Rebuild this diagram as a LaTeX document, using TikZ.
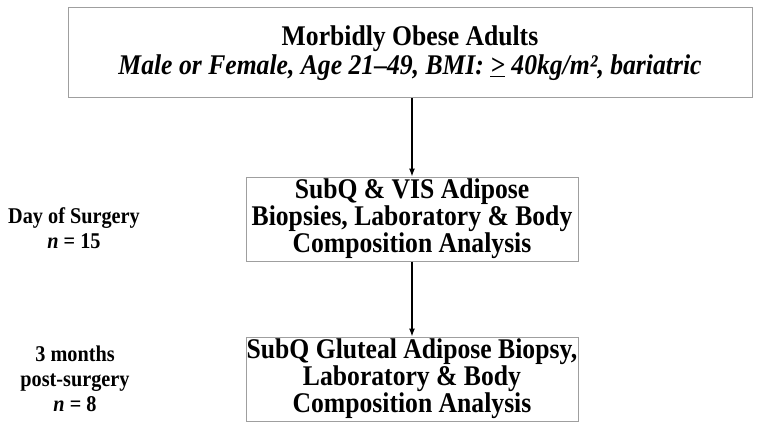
\documentclass[tikz,border=0pt]{standalone}
\usepackage{fontspec}
\setmainfont{Liberation Serif}[FakeStretch=0.9]
\usetikzlibrary{arrows.meta}
\begin{document}
\begin{tikzpicture}[
  x=1pt, y=1pt,
  >={Latex[length=8pt,width=6pt]},
  box/.style={draw=gray!75, line width=1pt, align=center, inner sep=0pt,
    font=\fontsize{28.5}{27}\selectfont\bfseries},
  lbl/.style={align=center, font=\fontsize{22.5}{25}\selectfont\bfseries},
  flow/.style={->, line width=1.2pt},
]

% ── Canvas (unit = 1 px of the 770 x 440 frame) ──────────────────────────────
\useasboundingbox (0, 0) rectangle (770, 440);

% ── Boxes ─────────────────────────────────────────────────────────────────────
\node[box, minimum width=684, minimum height=90] (cohort) at (410, 387)
  {Morbidly Obese Adults\\[2pt]
   \textit{Male or Female, Age 21--49, BMI: \underline{>} 40kg/m², bariatric}};
\node[box, minimum width=332, minimum height=84] (surgery) at (412, 221)
  {SubQ \& VIS Adipose\\Biopsies, Laboratory \& Body\\Composition Analysis};
\node[box, minimum width=332, minimum height=84] (followup) at (412, 61)
  {SubQ Gluteal Adipose Biopsy,\\Laboratory \& Body\\Composition Analysis};

% ── Time points ───────────────────────────────────────────────────────────────
\node[lbl] (daylbl) at (74, 212) {Day of Surgery\\\textit{n} = 15};
\node[lbl] (monthlbl) at (75, 61) {3 months\\post-surgery\\\textit{n} = 8};

% ── Flow ──────────────────────────────────────────────────────────────────────
\draw[flow] (cohort.south -| surgery.north) -- (surgery.north);
\draw[flow] (surgery) -- (followup);

\end{tikzpicture}
\end{document}
